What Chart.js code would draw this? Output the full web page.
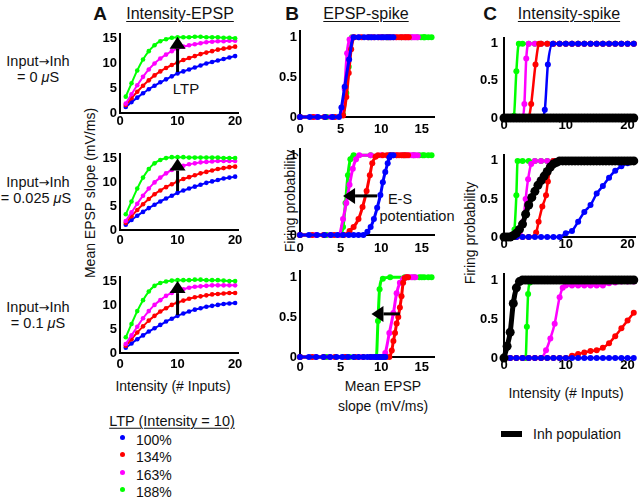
<!DOCTYPE html>
<html>
<head>
<meta charset="utf-8">
<script src="https://cdn.jsdelivr.net/npm/chart.js@4.4.0/dist/chart.umd.min.js"></script>
<style>
body{margin:0;background:#fff;width:640px;height:502px;position:relative;overflow:hidden;font-family:"Liberation Sans",Arial,sans-serif;color:#111}
.t{position:absolute;white-space:nowrap;transform:translate(-50%,-50%);font-size:14px;line-height:1}
.u{text-decoration:underline;text-decoration-thickness:1px;text-underline-offset:2px}
.big{font-weight:bold;font-size:19px}
.rot{transform:translate(-50%,-50%) rotate(-90deg)}
.l{transform:translate(0,-50%)}
.ar{font-family:"DejaVu Sans",sans-serif;font-size:13px}
.dot{position:absolute;width:5px;height:5px;border-radius:50%}
canvas{position:absolute}
</style>
</head>
<body>

<div class="t big" style="left:100px;top:13px">A</div>
<div class="t u" style="left:180px;top:14px;font-size:16px">Intensity-EPSP</div>
<div class="t big" style="left:292px;top:13px">B</div>
<div class="t u" style="left:366px;top:14px;font-size:16px">EPSP-spike</div>
<div class="t big" style="left:490px;top:13px">C</div>
<div class="t u" style="left:569px;top:14px;font-size:16px">Intensity-spike</div>

<div class="t" style="left:38px;top:61px;font-size:14.5px">Input<span class="ar">→</span>Inh</div>
<div class="t" style="left:38px;top:77px;font-size:14.5px">= 0 <i>μ</i>S</div>
<div class="t" style="left:38px;top:182px;font-size:14.5px">Input<span class="ar">→</span>Inh</div>
<div class="t" style="left:36px;top:198px;font-size:14.5px">= 0.025 <i>μ</i>S</div>
<div class="t" style="left:38px;top:307px;font-size:14.5px">Input<span class="ar">→</span>Inh</div>
<div class="t" style="left:38px;top:323px;font-size:14.5px">= 0.1 <i>μ</i>S</div>

<div class="t rot" style="left:90px;top:193px">Mean EPSP slope (mV/ms)</div>
<div class="t" style="left:173px;top:386px">Intensity (# Inputs)</div>
<div class="t" style="left:186px;top:88px;font-size:15px">LTP</div>

<div class="t rot" style="left:290px;top:201px">Firing probability</div>
<div class="t" style="left:383px;top:386px">Mean EPSP</div>
<div class="t" style="left:383px;top:406px">slope (mV/ms)</div>
<div class="t" style="left:400px;top:199px;font-size:14.5px">E-S</div>
<div class="t" style="left:417px;top:216px;font-size:14.5px">potentiation</div>

<div class="t rot" style="left:470px;top:233px">Firing probability</div>
<div class="t" style="left:566px;top:393px">Intensity (# Inputs)</div>

<div class="t u" style="left:172px;top:421px;font-size:14.5px">LTP (Intensity = 10)</div>
<div class="dot" style="left:120px;top:435px;background:#0000ff"></div>
<div class="t l" style="left:136px;top:440px">100%</div>
<div class="dot" style="left:120px;top:452px;background:#ff0000"></div>
<div class="t l" style="left:136px;top:457px">134%</div>
<div class="dot" style="left:120px;top:470px;background:#ff00ff"></div>
<div class="t l" style="left:136px;top:475px">163%</div>
<div class="dot" style="left:120px;top:487px;background:#00ff00"></div>
<div class="t l" style="left:136px;top:492px">188%</div>

<div style="position:absolute;left:501px;top:431px;width:21px;height:6px;background:#000"></div>
<div class="t l" style="left:533px;top:434px">Inh population</div>

<canvas id="a1"></canvas><canvas id="a2"></canvas><canvas id="a3"></canvas>
<canvas id="b1"></canvas><canvas id="b2"></canvas><canvas id="b3"></canvas>
<canvas id="c1"></canvas><canvas id="c2"></canvas><canvas id="c3"></canvas>

<script>
// colours of the four LTP levels
const BLUE = '#0000ff', RED = '#ff0000', MAG = '#ff00ff', GRN = '#00ff00';

// ---- A: Intensity-EPSP (x = intensity, y = mean EPSP slope) ----
const XA = [1,2,3,4,5,6,7,8,9,10,11,12,13,14,15,16,17,18,19,20];
const A1_BLUE = [1.2,2.2,3.1,4.0,4.8,5.5,6.2,6.8,7.4,8.0,8.4,8.8,9.2,9.6,10.0,10.3,10.6,10.9,11.2,11.5];
const A1_RED  = [1.6,3.0,4.3,5.5,6.6,7.6,8.4,9.1,9.7,10.2,10.7,11.1,11.5,11.9,12.2,12.5,12.8,13.0,13.2,13.4];
const A1_MAG  = [1.9,3.8,5.6,7.3,8.8,10.0,11.0,11.8,12.5,13.0,13.4,13.7,13.9,14.1,14.3,14.4,14.5,14.5,14.6,14.6];
const A1_GRN  = [3.3,6.0,8.6,10.8,12.5,13.7,14.5,14.9,15.2,15.3,15.3,15.3,15.4,15.4,15.3,15.3,15.3,15.2,15.2,15.1];
const A2_BLUE = [1.1,2.1,3.0,3.8,4.6,5.3,6.0,6.6,7.2,7.8,8.3,8.7,9.1,9.5,9.9,10.2,10.5,10.8,11.0,11.2];
const A2_RED  = [1.5,2.9,4.2,5.4,6.5,7.5,8.3,9.0,9.6,10.2,10.7,11.1,11.5,11.9,12.2,12.5,12.8,13.0,13.2,13.3];
const A2_MAG  = [1.9,3.7,5.5,7.2,8.7,10.0,11.0,11.9,12.6,13.1,13.5,13.8,14.0,14.2,14.3,14.4,14.5,14.5,14.5,14.5];
const A2_GRN  = [3.3,6.0,8.7,11.0,12.8,14.0,14.7,15.1,15.3,15.3,15.3,15.2,15.2,15.2,15.2,15.2,15.2,15.1,15.1,15.1];
const A3_BLUE = [1.1,2.0,2.9,3.7,4.5,5.2,5.9,6.6,7.2,7.8,8.3,8.7,9.1,9.4,9.7,9.9,10.1,10.3,10.4,10.5];
const A3_RED  = [1.5,2.9,4.3,5.6,6.8,7.8,8.7,9.4,10.1,10.6,11.0,11.4,11.7,11.9,12.1,12.3,12.4,12.5,12.6,12.6];
const A3_MAG  = [1.9,3.7,5.5,7.3,8.8,10.1,11.1,12.0,12.6,13.1,13.4,13.7,13.9,14.0,14.1,14.2,14.2,14.2,14.2,14.2];
const A3_GRN  = [3.3,6.1,8.8,11.1,12.9,14.1,14.7,15.0,15.2,15.3,15.3,15.3,15.4,15.4,15.3,15.3,15.3,15.2,15.1,15.1];
const A_XTICKS = [0,10,20];
const A_YTICKS = [0,5,10,15];

// ---- B: EPSP-spike (x = EPSP slope, y = firing probability) ----
const B1_BLUE_X = [0,1.2,2.2,3.1,4.0,4.8,5.1,5.5,6.05,6.6,7.2,7.9,8.4,8.8,9.2,9.6,10.0,10.3,10.6,10.9,11.2,11.5];
const B1_BLUE_Y = [0,0,0,0,0,0,0.12,0.38,0.72,1,1,1,1,1,1,1,1,1,1,1,1,1];
const B1_RED_X  = [0,1.6,3.0,4.3,5.3,5.7,6.0,6.3,6.7,7.6,8.4,9.1,9.7,10.2,10.7,11.1,11.5,11.9,12.2,12.5,12.8,13.0,13.2,13.4];
const B1_RED_Y  = [0,0,0,0,0.02,0.25,0.55,0.85,1,1,1,1,1,1,1,1,1,1,1,1,1,1,1,1];
const B1_MAG_X  = [0,1.9,3.8,5.2,5.5,5.8,6.1,6.5,7.3,8.8,10.0,11.0,11.8,12.5,13.0,13.4,13.7,13.9,14.1,14.3,14.5];
const B1_MAG_Y  = [0,0,0,0.03,0.35,0.8,0.97,1,1,1,1,1,1,1,1,1,1,1,1,1,1];
const B1_GRN_X  = [0,3.3,5.3,5.7,6.0,6.4,8.6,10.8,12.5,13.7,14.5,14.9,15.2,15.3,15.4,15.8,16.2];
const B1_GRN_Y  = [0,0,0.03,0.3,0.63,1,1,1,1,1,1,1,1,1,1,1,1];

const B2_BLUE_X = [0,1.1,2.1,3.0,3.8,4.6,5.3,6.0,6.6,7.2,7.8,8.3,8.7,9.1,9.5,9.9,10.2,10.5,10.8,11.0,11.2,11.5];
const B2_BLUE_Y = [0,0,0,0,0,0,0,0,0,0,0,0.04,0.1,0.2,0.34,0.5,0.66,0.79,0.9,0.97,1,1];
const B2_RED_X  = [0,1.5,2.9,4.2,5.4,6.1,6.6,7.2,7.7,8.2,8.6,8.9,9.3,9.6,10.2,10.7,11.1,11.5,11.9,12.2,12.5,12.8,13.0,13.3];
const B2_RED_Y  = [0,0,0,0,0,0.05,0.1,0.2,0.35,0.55,0.75,0.9,0.98,1,1,1,1,1,1,1,1,1,1,1];
const B2_MAG_X  = [0,1.9,3.7,4.8,5.3,5.7,6.1,6.5,6.9,7.3,8.7,10.0,11.0,11.9,12.6,13.1,13.5,13.8,14.0,14.2,14.5];
const B2_MAG_Y  = [0,0,0,0,0.2,0.4,0.63,0.83,0.95,1,1,1,1,1,1,1,1,1,1,1,1];
const B2_GRN_X  = [0,3.3,5.0,5.3,5.6,5.9,6.2,6.6,8.7,11.0,12.8,14.0,14.7,15.1,15.3,15.8,16.2];
const B2_GRN_Y  = [0,0,0,0.1,0.4,0.75,0.95,1,1,1,1,1,1,1,1,1,1];

const B3_BLUE_X = [0,1.1,2.0,2.9,3.7,4.5,5.2,5.9,6.6,7.2,7.8,8.3,8.7,9.1,9.4,9.7,9.9,10.1,10.3,10.5];
const B3_BLUE_Y = [0,0,0,0,0,0,0,0,0,0,0,0,0,0,0,0,0,0,0,0];
const B3_RED_X  = [0,1.5,2.9,4.3,5.6,6.8,7.8,8.7,9.4,10.1,10.6,11.0,11.3,11.5,11.7,11.9,12.1,12.3,12.5,12.7,12.9,13.1,13.3];
const B3_RED_Y  = [0,0,0,0,0,0,0,0,0,0,0,0,0.08,0.2,0.3,0.42,0.5,0.62,0.76,0.93,0.99,1,1];
const B3_MAG_X  = [0,1.9,3.7,5.5,7.3,8.8,10.1,10.5,11.0,11.5,11.9,12.3,12.7,13.1,13.4,13.7,13.9,14.2];
const B3_MAG_Y  = [0,0,0,0,0,0,0,0.05,0.3,0.55,0.8,0.93,0.98,1,1,1,1,1];
const B3_GRN_X  = [0,3.3,6.1,8.8,9.4,9.6,9.8,10.2,11.1,12.9,14.1,14.7,15.0,15.3,15.8,16.2];
const B3_GRN_Y  = [0,0,0,0,0,0.45,0.85,0.98,1,1,1,1,1,1,1,1];
const B_XTICKS = [0,5,10,15];

// ---- C: Intensity-spike (x = intensity, y = firing probability) ----
const XC = [0,1,2,3,4,5,6,7,8,9,10,11,12,13,14,15,16,17,18,19,20,21];
const XC_HALF = [0,0.5,1,1.5,2,2.5,3,3.5,4,4.5,5,5.5,6,6.5,7,7.5,8,8.5,9,9.5,10,10.5,11,11.5,12,12.5,13,13.5,14,14.5,15,15.5,16,16.5,17,17.5,18,18.5,19,19.5,20,20.5,21];
const C1_BLACK_Y = [0,0,0,0,0,0,0,0,0,0,0,0,0,0,0,0,0,0,0,0,0,0,0,0,0,0,0,0,0,0,0,0,0,0,0,0,0,0,0,0,0,0,0];
const C2_BLACK_Y = [0,0,0,0.02,0.05,0.1,0.17,0.3,0.42,0.52,0.6,0.68,0.74,0.8,0.86,0.92,0.96,0.98,1,1,1,1,1,1,1,1,1,1,1,1,1,1,1,1,1,1,1,1,1,1,1,1,1];
const C3_BLACK_Y = [0,0.15,0.33,0.7,0.9,0.98,1,1,1,1,1,1,1,1,1,1,1,1,1,1,1,1,1,1,1,1,1,1,1,1,1,1,1,1,1,1,1,1,1,1,1,1,1];

const C1_GRN_X  = [0,1,1.6,2,2.4,3,4,5,6,7,8,9,10,11,12,13,14,15,16,17,18,19,20,21];
const C1_GRN_Y  = [0,0,0.03,0.63,1,1,1,1,1,1,1,1,1,1,1,1,1,1,1,1,1,1,1,1];
const C1_MAG_X  = [0,1,2,3,3.3,3.6,4,5,6,7,8,9,10,11,12,13,14,15,16,17,18,19,20,21];
const C1_MAG_Y  = [0,0,0,0.01,0.19,0.8,1,1,1,1,1,1,1,1,1,1,1,1,1,1,1,1,1,1];
const C1_RED_X  = [0,1,2,3,4,4.4,5.1,5.7,6,7,8,9,10,11,12,13,14,15,16,17,18,19,20,21];
const C1_RED_Y  = [0,0,0,0,0.01,0.19,0.72,1,1,1,1,1,1,1,1,1,1,1,1,1,1,1,1,1];
const C1_BLUE_X = [0,1,2,3,4,5,6,6.6,7.1,7.9,9,10,11,12,13,14,15,16,17,18,19,20,21];
const C1_BLUE_Y = [0,0,0,0,0,0,0,0.11,0.72,1,1,1,1,1,1,1,1,1,1,1,1,1,1];

const C2_GRN_X  = [0,1,1.5,1.7,2,2.2,3,4,5,6,7,8,9,10,11,12,13,14,15,16,17,18,19,20,21];
const C2_GRN_Y  = [0,0,0,0.1,0.55,1,1,1,1,1,1,1,1,1,1,1,1,1,1,1,1,1,1,1,1];
const C2_MAG_X  = [0,1,2,2.6,3.1,3.5,3.9,4.4,5,6,7,8,9,10,11,12,13,14,15,16,17,18,19,20,21];
const C2_MAG_Y  = [0,0,0,0.02,0.2,0.5,0.76,0.96,1,1,1,1,1,1,1,1,1,1,1,1,1,1,1,1,1];
const C2_RED_X  = [0,1,2,3,4,5.2,5.6,6.2,6.8,7.1,7.5,8,9,10,11,12,13,14,15,16,17,18,19,20,21];
const C2_RED_Y  = [0,0,0,0,0,0.06,0.2,0.4,0.55,0.73,0.9,1,1,1,1,1,1,1,1,1,1,1,1,1,1];
const C2_BLUE_Y = [0,0,0,0,0,0,0,0,0,0,0.05,0.08,0.2,0.33,0.42,0.57,0.67,0.78,0.87,0.93,0.97,1];

const C3_GRN_X  = [0,1,2,3,3.5,3.7,3.9,4.2,5,6,7,8,9,10,11,12,13,14,15,16,17,18,19,20,21];
const C3_GRN_Y  = [0,0,0,0,0,0.4,0.82,0.97,1,1,1,1,1,1,1,1,1,1,1,1,1,1,1,1,1];
const C3_MAG_X  = [0,1,2,3,4,5,6,6.8,7.5,8.2,9,9.5,10,11,12,13,14,15,16,17,18,19,20,21];
const C3_MAG_Y  = [0,0,0,0,0,0,0,0.1,0.25,0.44,0.78,0.9,0.93,0.93,0.93,0.93,0.93,0.93,0.93,0.96,0.97,0.98,0.98,0.98];
const C3_RED_Y  = [0,0,0,0,0,0,0,0,0,0,0,0.03,0.05,0.07,0.09,0.1,0.13,0.19,0.28,0.38,0.48,0.58];
const C3_BLUE_Y = [0,0,0,0,0,0,0,0,0,0,0,0,0,0,0,0,0,0,0,0,0,0];
const C_XTICKS = [0,10,20];
const P_YTICKS = [0,0.5,1];

const FONT = '"Liberation Sans", Arial, sans-serif';

function pts(xs, ys) { return xs.map((x, i) => ({x: x, y: ys[i]})); }

function line(xs, ys, color, lw, r) {
  return {
    data: pts(xs, ys), borderColor: color, backgroundColor: color,
    borderWidth: lw, pointRadius: r, pointHoverRadius: r, pointBorderWidth: 0,
    showLine: true, clip: false, cubicInterpolationMode: 'monotone'
  };
}

// arrows are annotations, given in data units
const ARROWS = {
  a1: [{x1: 10, y1: 8.3, x2: 10, y2: 15.4}],
  a2: [{x1: 10, y1: 8.2, x2: 10, y2: 15.0}],
  a3: [{x1: 10, y1: 8.0, x2: 10, y2: 15.1}],
  b2: [{x1: 9.5, y1: 0.49, x2: 5.3, y2: 0.49}],
  b3: [{x1: 12.3, y1: 0.54, x2: 8.8, y2: 0.54}]
};

const arrowPlugin = {
  id: 'arrows',
  afterDatasetsDraw(chart) {
    const list = ARROWS[chart.canvas.id];
    if (!list) return;
    const c = chart.ctx, xs = chart.scales.x, ys = chart.scales.y;
    list.forEach(a => {
      const x1 = xs.getPixelForValue(a.x1), y1 = ys.getPixelForValue(a.y1);
      const x2 = xs.getPixelForValue(a.x2), y2 = ys.getPixelForValue(a.y2);
      const ang = Math.atan2(y2 - y1, x2 - x1), hl = 12, hw = 8;
      const bx = x2 - hl * Math.cos(ang), by = y2 - hl * Math.sin(ang);
      c.save();
      c.strokeStyle = '#000'; c.fillStyle = '#000'; c.lineWidth = 3;
      c.beginPath(); c.moveTo(x1, y1); c.lineTo(bx, by); c.stroke();
      c.beginPath();
      c.moveTo(x2, y2);
      c.lineTo(bx - hw * Math.sin(ang), by + hw * Math.cos(ang));
      c.lineTo(bx + hw * Math.sin(ang), by - hw * Math.cos(ang));
      c.closePath(); c.fill();
      c.restore();
    });
  }
};

// box = plot area in page pixels
function makeChart(id, box, sc, datasets) {
  const L = 40, B = 26, T = 8, R = 10;
  const cv = document.getElementById(id);
  cv.width = Math.round(box.r - box.l + L + R);
  cv.height = Math.round(box.b - box.t + T + B);
  cv.style.left = (box.l - L) + 'px';
  cv.style.top = (box.t - T) + 'px';
  const tickFont = {family: FONT, size: 13, weight: 'bold'};
  new Chart(cv, {
    type: 'scatter',
    data: {datasets: datasets},
    options: {
      responsive: false, animation: false, devicePixelRatio: 1,
      layout: {padding: {top: T, right: R, left: 0, bottom: 0}},
      plugins: {legend: {display: false}, tooltip: {enabled: false}},
      scales: {
        x: {
          type: 'linear', min: 0, max: sc.xmax,
          grid: {display: false, drawTicks: false},
          border: {color: '#000', width: 2},
          ticks: {font: tickFont, color: '#000', padding: sc.xpad, maxRotation: 0, autoSkip: false},
          afterBuildTicks: s => { s.ticks = sc.xt.map(v => ({value: v})); },
          afterFit: s => { s.height = B; }
        },
        y: {
          type: 'linear', min: 0, max: sc.ymax,
          grid: {display: false, drawTicks: false},
          border: {color: '#000', width: 2},
          ticks: {font: tickFont, color: '#000', padding: sc.ypad, autoSkip: false,
            callback: (v, i) => sc.yl ? sc.yl[i] : String(v)},
          afterBuildTicks: s => { s.ticks = sc.yt.map(v => ({value: v})); },
          afterFit: s => { s.width = L; }
        }
      }
    },
    plugins: [arrowPlugin]
  });
}

// A panels
const aSc = p => ({xmax: 20.5, ymax: 16, xt: A_XTICKS, yt: A_YTICKS, xpad: p, ypad: 3});
function aSets(b, r, m, g) {
  return [line(XA, g, GRN, 2, 2.3), line(XA, m, MAG, 2, 2.3), line(XA, r, RED, 2, 2.3), line(XA, b, BLUE, 2, 2.3)];
}
makeChart('a1', {l: 120, r: 237.5, t: 31, b: 113}, aSc(1), aSets(A1_BLUE, A1_RED, A1_MAG, A1_GRN));
makeChart('a2', {l: 120, r: 237.5, t: 151, b: 230}, aSc(3), aSets(A2_BLUE, A2_RED, A2_MAG, A2_GRN));
makeChart('a3', {l: 120, r: 237.5, t: 274, b: 353}, aSc(4), aSets(A3_BLUE, A3_RED, A3_MAG, A3_GRN));

// B panels (blue drawn on top)
const bSc = (p, yl) => ({xmax: 16.5, ymax: 1.08, xt: B_XTICKS, yt: P_YTICKS, yl: yl, xpad: p, ypad: 3});
makeChart('b1', {l: 300, r: 434, t: 28, b: 117}, bSc(5, ['0', '0.5', '1']), [
  line(B1_BLUE_X, B1_BLUE_Y, BLUE, 3, 3), line(B1_RED_X, B1_RED_Y, RED, 3, 3),
  line(B1_MAG_X, B1_MAG_Y, MAG, 3, 3), line(B1_GRN_X, B1_GRN_Y, GRN, 3, 3)]);
makeChart('b2', {l: 300, r: 434, t: 146, b: 235}, bSc(6, ['0', '', '1']), [
  line(B2_BLUE_X, B2_BLUE_Y, BLUE, 3, 3), line(B2_RED_X, B2_RED_Y, RED, 3, 3),
  line(B2_MAG_X, B2_MAG_Y, MAG, 3, 3), line(B2_GRN_X, B2_GRN_Y, GRN, 3, 3)]);
makeChart('b3', {l: 300, r: 434, t: 267.5, b: 356.7}, bSc(3, ['0', '0.5', '1']), [
  line(B3_BLUE_X, B3_BLUE_Y, BLUE, 3, 3), line(B3_RED_X, B3_RED_Y, RED, 3, 3),
  line(B3_MAG_X, B3_MAG_Y, MAG, 3, 3), line(B3_GRN_X, B3_GRN_Y, GRN, 3, 3)]);

// C panels (inhibitory population in black, on top)
const cSc = p => ({xmax: 21.2, ymax: 1.08, xt: C_XTICKS, yt: P_YTICKS, xpad: p, ypad: 6});
makeChart('c1', {l: 504, r: 635, t: 32, b: 118.3}, cSc(0), [
  line(XC_HALF, C1_BLACK_Y, '#000', 5, 4.5), line(C1_BLUE_X, C1_BLUE_Y, BLUE, 2.5, 3),
  line(C1_RED_X, C1_RED_Y, RED, 2.5, 3), line(C1_MAG_X, C1_MAG_Y, MAG, 2.5, 3),
  line(C1_GRN_X, C1_GRN_Y, GRN, 2.5, 3)]);
makeChart('c2', {l: 504, r: 635, t: 148.5, b: 236.7}, cSc(0), [
  line(XC_HALF, C2_BLACK_Y, '#000', 5, 4.5), line(XC, C2_BLUE_Y, BLUE, 2.5, 3),
  line(C2_RED_X, C2_RED_Y, RED, 2.5, 3), line(C2_MAG_X, C2_MAG_Y, MAG, 2.5, 3),
  line(C2_GRN_X, C2_GRN_Y, GRN, 2.5, 3)]);
makeChart('c3', {l: 504, r: 635, t: 268.3, b: 358.3}, cSc(0), [
  line(XC_HALF, C3_BLACK_Y, '#000', 5, 4.5), line(XC, C3_BLUE_Y, BLUE, 2.5, 3),
  line(XC, C3_RED_Y, RED, 2.5, 3), line(C3_MAG_X, C3_MAG_Y, MAG, 2.5, 3),
  line(C3_GRN_X, C3_GRN_Y, GRN, 2.5, 3)]);
</script>
</body>
</html>
